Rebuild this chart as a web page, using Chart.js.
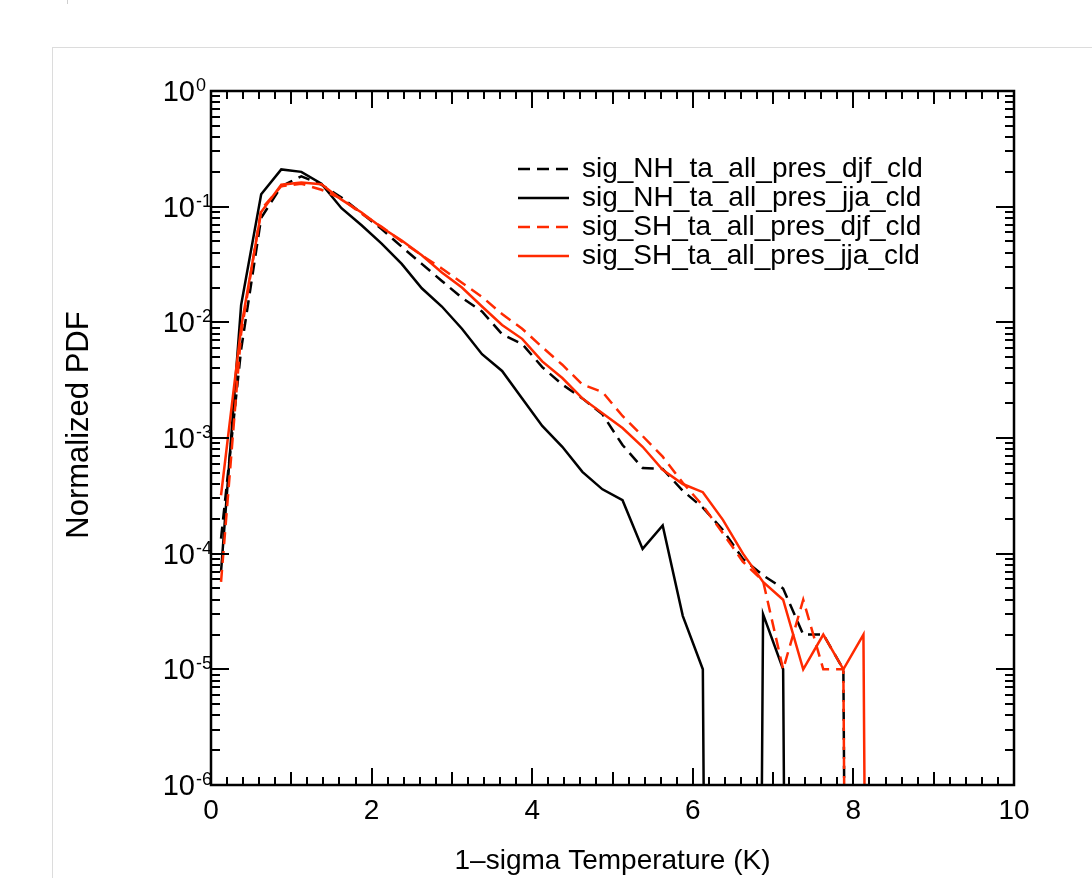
<!DOCTYPE html>
<html>
<head>
<meta charset="utf-8">
<title>Normalized PDF — 1-sigma temperature</title>
<script src="https://cdn.jsdelivr.net/npm/chart.js@4.4.1/dist/chart.umd.min.js"></script>
<style>
  html, body { margin: 0; padding: 0; background: #fff; }
  #wrap { position: relative; width: 1092px; height: 878px; overflow: hidden; }
  .panel { position: absolute; left: 52px; top: 47px; width: 1100px; height: 900px; border: 1px solid #dcdcdc; }
  .nick { position: absolute; left: 67px; top: 0; width: 1px; height: 4px; background: #cfcfcf; }
  canvas { position: absolute; left: 0; top: 0; }
</style>
</head>
<body>
<div id="wrap">
  <div class="nick"></div>
  <div class="panel"></div>
  <canvas id="pdf" width="1092" height="878"></canvas>
</div>
<script>
const FONT = '"Liberation Sans", Arial, Helvetica, sans-serif';
const RED = '#ff2a00';

// histogram bin centres, 1-sigma temperature (K)
const sigmaBins = [0.125, 0.375, 0.625, 0.875, 1.125, 1.375, 1.625, 1.875, 2.125, 2.375,
  2.625, 2.875, 3.125, 3.375, 3.625, 3.875, 4.125, 4.375, 4.625, 4.875,
  5.125, 5.375, 5.625, 5.875, 6.125, 6.375, 6.625, 6.875, 7.125, 7.375,
  7.625, 7.875, 8.125, 8.375, 8.625, 8.875, 9.125, 9.375, 9.625, 9.875];

// normalized PDF per bin (0 = empty bin)
const nhDjf = [1.35e-4, 0.0058, 0.08, 0.15, 0.183, 0.155, 0.12, 0.088, 0.064, 0.045,
  0.032, 0.0228, 0.0163, 0.0124, 0.0079, 0.0065, 0.0041, 0.0029, 0.0022, 0.0016,
  8.7e-4, 5.5e-4, 5.4e-4, 3.5e-4, 2.5e-4, 1.6e-4, 9e-5, 6.5e-5, 5e-5, 2e-5,
  2e-5, 1e-5, 0, 0, 0, 0, 0, 0, 0, 0];
const nhJja = [7e-5, 0.0141, 0.128, 0.21, 0.2, 0.158, 0.097, 0.069, 0.048, 0.032,
  0.0197, 0.0137, 0.0088, 0.0053, 0.0038, 0.0022, 0.00127, 8.4e-4, 5.1e-4, 3.6e-4,
  2.9e-4, 1.1e-4, 1.75e-4, 2.9e-5, 1e-5, 0, 0, 3e-5, 1e-5, 0,
  0, 0, 0, 0, 0, 0, 0, 0, 0, 0];
const shDjf = [5.7e-5, 0.008, 0.095, 0.15, 0.158, 0.14, 0.117, 0.087, 0.067, 0.05,
  0.038, 0.0292, 0.022, 0.0166, 0.0118, 0.0088, 0.0061, 0.0043, 0.0029, 0.0025,
  0.00155, 0.00104, 6.9e-4, 4.1e-4, 2.6e-4, 1.5e-4, 8.5e-5, 5.8e-5, 1e-5, 4e-5,
  1e-5, 1e-5, 0, 0, 0, 0, 0, 0, 0, 0];
const shJja = [3.2e-4, 0.009, 0.09, 0.155, 0.162, 0.156, 0.115, 0.089, 0.066, 0.051,
  0.038, 0.027, 0.02, 0.0137, 0.0095, 0.0072, 0.0046, 0.0033, 0.0022, 0.00164,
  0.00122, 8.4e-4, 5.3e-4, 4.0e-4, 3.4e-4, 1.96e-4, 1e-4, 5.7e-5, 4e-5, 1e-5,
  2e-5, 1e-5, 2e-5, 0, 0, 0, 0, 0, 0, 0];

const seriesNames = ['sig_NH_ta_all_pres_djf_cld', 'sig_NH_ta_all_pres_jja_cld',
  'sig_SH_ta_all_pres_djf_cld', 'sig_SH_ta_all_pres_jja_cld'];

const xLabelStep = 2;
const xMajorStep = 1;
const xMinorStep = 0.2;
const yExponents = [0, -1, -2, -3, -4, -5, -6];

// empty bins go straight down off the bottom of the log axis
const FLOOR = 1e-30;
function pts(vals) {
  return vals.map((v, i) => ({ x: sigmaBins[i], y: v > 0 ? v : FLOOR }));
}

const DASH = [12, 7];
const datasets = [
  { label: seriesNames[0], data: pts(nhDjf), borderColor: '#000', borderDash: DASH, order: 4 },
  { label: seriesNames[1], data: pts(nhJja), borderColor: '#000', order: 3 },
  { label: seriesNames[2], data: pts(shDjf), borderColor: RED, borderDash: DASH, order: 2 },
  { label: seriesNames[3], data: pts(shJja), borderColor: RED, order: 1 },
].map(d => Object.assign({ borderWidth: 2.5, pointRadius: 0, fill: false, tension: 0 }, d));

// frame with inward ticks on all four sides, superscript decade labels, legend
const frame = {
  id: 'frame',
  afterDatasetsDraw(chart) {
    const { ctx, chartArea: a, scales: { x, y } } = chart;
    ctx.save();
    ctx.strokeStyle = '#000';
    ctx.setLineDash([]);
    ctx.lineWidth = 2;
    ctx.beginPath();
    const nMinor = Math.round((x.max - x.min) / xMinorStep);
    for (let k = 0; k <= nMinor; k++) {
      const v = x.min + k * xMinorStep;
      const px = Math.round(x.getPixelForValue(v));
      let len = 8;
      if (Math.abs(v / xLabelStep - Math.round(v / xLabelStep)) < 1e-6) len = 17;
      else if (Math.abs(v / xMajorStep - Math.round(v / xMajorStep)) < 1e-6) len = 13;
      ctx.moveTo(px, a.bottom); ctx.lineTo(px, a.bottom - len);
      ctx.moveTo(px, a.top); ctx.lineTo(px, a.top + len);
    }
    yExponents.forEach(e => {
      for (let m = 1; m <= 9; m++) {
        const v = m * Math.pow(10, e);
        if (v > y.max * 1.0001 || v < y.min * 0.9999) continue;
        const py = Math.round(y.getPixelForValue(v));
        const len = m === 1 ? 18 : 9;
        ctx.moveTo(a.left, py); ctx.lineTo(a.left + len, py);
        ctx.moveTo(a.right, py); ctx.lineTo(a.right - len, py);
      }
    });
    ctx.stroke();
    ctx.lineWidth = 2.5;
    ctx.strokeRect(a.left, a.top, a.right - a.left, a.bottom - a.top);
    ctx.restore();
  },
  afterDraw(chart) {
    const { ctx, chartArea: a, scales: { y } } = chart;
    ctx.save();
    ctx.fillStyle = '#000';
    // decade labels 10^n
    yExponents.forEach(e => {
      const py = y.getPixelForValue(Math.pow(10, e));
      ctx.font = '29px ' + FONT;
      ctx.textAlign = 'right';
      ctx.textBaseline = 'middle';
      ctx.fillText('10', a.left - 16, py + 2);
      ctx.font = '18px ' + FONT;
      ctx.textAlign = 'left';
      ctx.textBaseline = 'alphabetic';
      ctx.fillText(String(e), a.left - 15, py);
    });
    // y title
    ctx.save();
    ctx.translate(79, 425);
    ctx.rotate(-Math.PI / 2);
    ctx.font = '31px ' + FONT;
    ctx.textAlign = 'center';
    ctx.textBaseline = 'middle';
    ctx.fillText('Normalized PDF', 0, 0);
    ctx.restore();
    // legend
    chart.data.datasets.forEach((ds, i) => {
      const ly = 169 + i * 29;
      ctx.strokeStyle = ds.borderColor;
      ctx.lineWidth = ds.borderWidth;
      ctx.setLineDash(ds.borderDash || []);
      ctx.beginPath();
      ctx.moveTo(518, ly); ctx.lineTo(569, ly);
      ctx.stroke();
      ctx.setLineDash([]);
      ctx.font = '28px ' + FONT;
      ctx.textAlign = 'left';
      ctx.textBaseline = 'middle';
      ctx.fillText(ds.label, 582, ly);
    });
    ctx.restore();
  },
};

new Chart(document.getElementById('pdf'), {
  type: 'line',
  data: { datasets },
  options: {
    responsive: false,
    animation: false,
    devicePixelRatio: 1,
    layout: { padding: { top: 91, right: 78, bottom: 0, left: 0 } },
    plugins: { legend: { display: false }, tooltip: { enabled: false } },
    scales: {
      x: {
        type: 'linear', min: 0, max: 10,
        grid: { display: false, drawTicks: false }, border: { display: false },
        ticks: { stepSize: xLabelStep, color: '#000', font: { family: FONT, size: 28 }, padding: 9, maxRotation: 0, autoSkip: false },
        title: { display: true, text: '1–sigma Temperature (K)', color: '#000', font: { family: FONT, size: 28 }, padding: { top: 0, bottom: 0 } },
        afterFit: s => { s.height = 93; },
      },
      y: {
        type: 'logarithmic', min: 1e-6, max: 1,
        grid: { display: false, drawTicks: false }, border: { display: false },
        ticks: { display: false },
        afterFit: s => { s.width = 211; },
      },
    },
  },
  plugins: [frame],
});
</script>
</body>
</html>
